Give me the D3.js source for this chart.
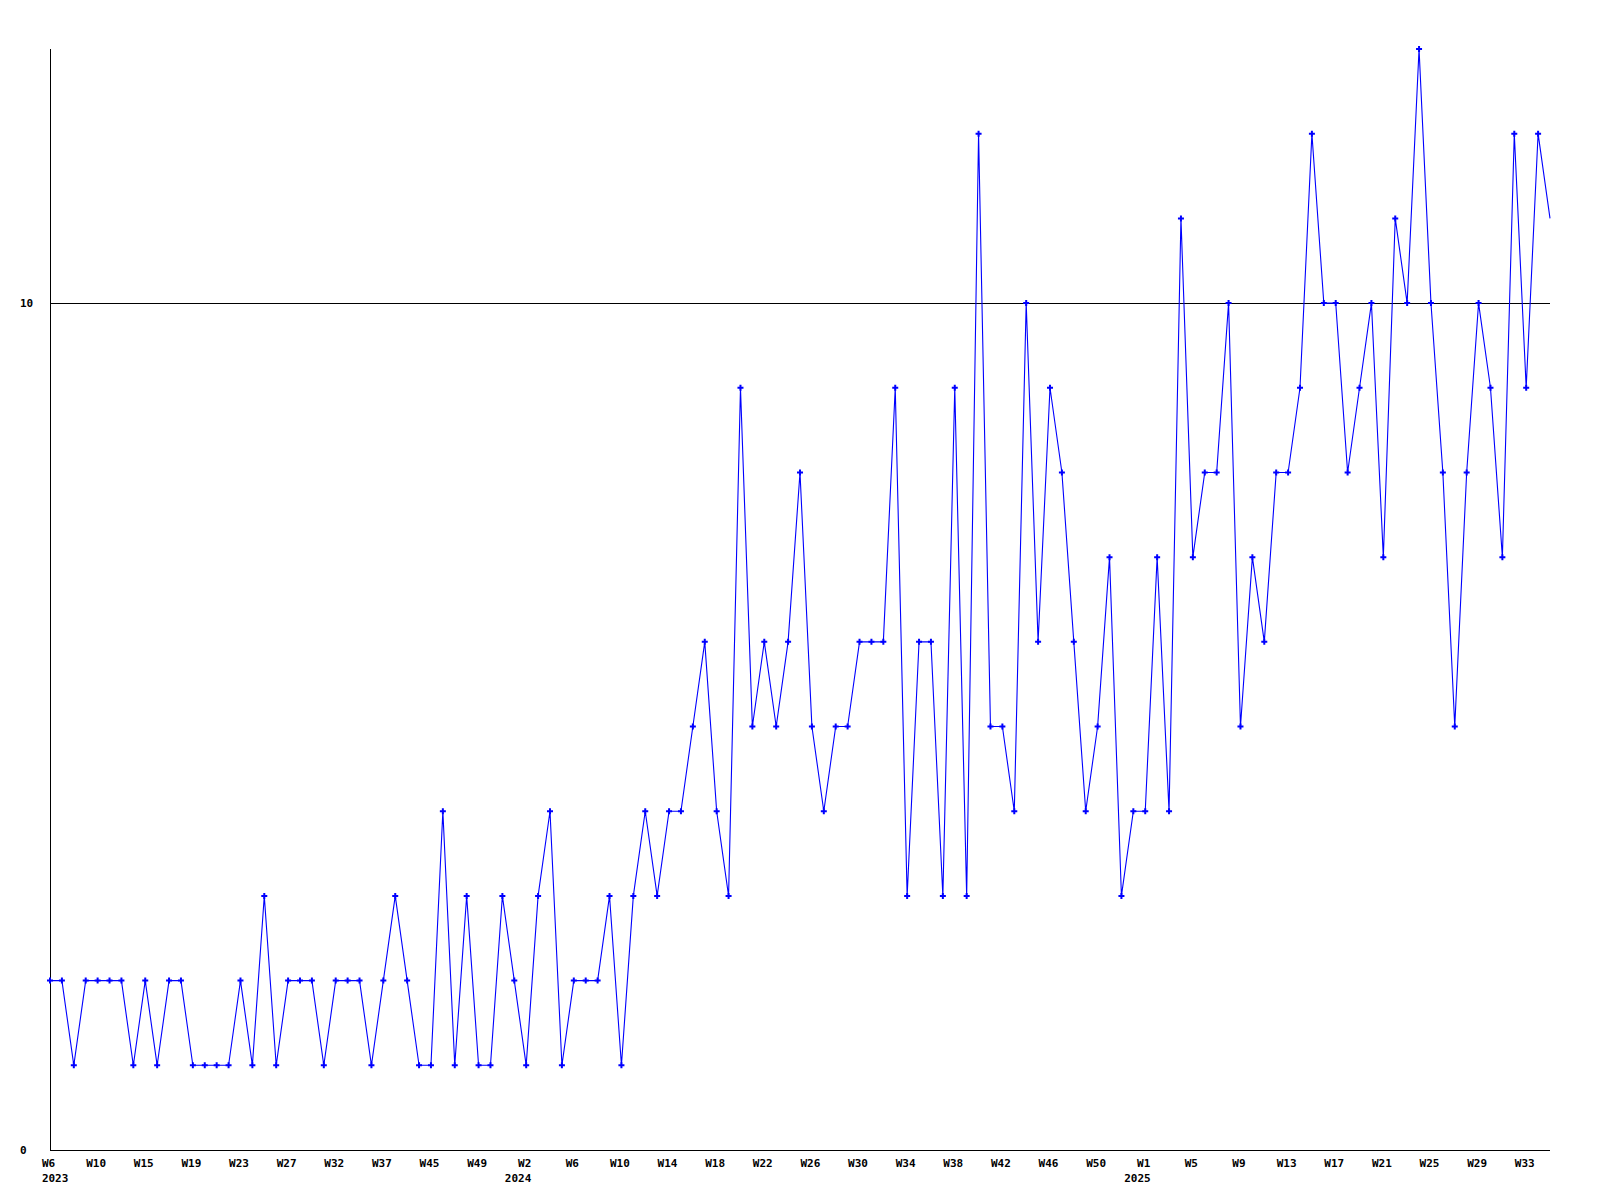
<!DOCTYPE html>
<html>
<head>
<meta charset="utf-8">
<script src="https://cdn.jsdelivr.net/npm/d3@7"></script>
<style>
  html, body { margin: 0; padding: 0; background: #ffffff; }
  svg { display: block; }
  text { font-family: "DejaVu Sans Mono", "Liberation Mono", monospace; font-weight: bold; font-size: 11px; fill: #000; }
</style>
</head>
<body>
<svg id="chart" width="1600" height="1200"></svg>
<script>
// ---- data ----
const values = [
  2, 2, 1, 2, 2, 2, 2, 1, 2, 1,
  2, 2, 1, 1, 1, 1, 2, 1, 3, 1,
  2, 2, 2, 1, 2, 2, 2, 1, 2, 3,
  2, 1, 1, 4, 1, 3, 1, 1, 3, 2,
  1, 3, 4, 1, 2, 2, 2, 3, 1, 3,
  4, 3, 4, 4, 5, 6, 4, 3, 9, 5,
  6, 5, 6, 8, 5, 4, 5, 5, 6, 6,
  6, 9, 3, 6, 6, 3, 9, 3, 12, 5,
  5, 4, 10, 6, 9, 8, 6, 4, 5, 7,
  3, 4, 4, 7, 4, 11, 7, 8, 8, 10,
  5, 7, 6, 8, 8, 9, 12, 10, 10, 8,
  9, 10, 7, 11, 10, 13, 10, 8, 5, 8,
  10, 9, 7, 12, 9, 12, 11
];
// one label for every 4th point
const weekLabels = ["W6","W10","W15","W19","W23","W27","W32","W37","W45","W49","W2",
  "W6","W10","W14","W18","W22","W26","W30","W34","W38","W42","W46","W50",
  "W1","W5","W9","W13","W17","W21","W25","W29","W33"];
const labelEvery = 4;
const yearLabels = ["2023", "2024", "2025"];
const yearLabelOf = [0, 10, 23];   // index into weekLabels carrying the year line
const yTicks = [0, 10];
const yMax = 13;

// ---- layout ----
const margin = { left: 50, right: 50, top: 49, bottom: 50 };
const W = 1600, H = 1200;
const plotW = W - margin.left - margin.right;
const plotH = H - margin.top - margin.bottom;

const svg = d3.select("#chart");
svg.append("rect").attr("width", W).attr("height", H).attr("fill", "#fff");

const g = svg.append("g").attr("transform", `translate(${margin.left},${margin.top})`);

const x = d3.scaleLinear().domain([0, values.length - 1]).range([0, plotW]);
const y = d3.scaleLinear().domain([0, yMax]).range([plotH, 0]);

// gridline at 10
g.selectAll("line.grid").data(yTicks.filter(d => d !== 0)).join("line")
  .attr("class", "grid")
  .attr("x1", 0).attr("x2", plotW)
  .attr("y1", d => Math.round(y(d)) + 0.5).attr("y2", d => Math.round(y(d)) + 0.5)
  .attr("stroke", "#000").attr("stroke-width", 1).attr("shape-rendering", "crispEdges");

// axes lines
g.append("line").attr("x1", 0.5).attr("x2", 0.5).attr("y1", 0).attr("y2", plotH)
  .attr("stroke", "#000").attr("shape-rendering", "crispEdges");
g.append("line").attr("x1", 0).attr("x2", plotW).attr("y1", plotH + 0.5).attr("y2", plotH + 0.5)
  .attr("stroke", "#000").attr("shape-rendering", "crispEdges");

// y tick labels (left aligned)
g.selectAll("text.ylab").data(yTicks).join("text")
  .attr("class", "ylab")
  .attr("x", -30)
  .attr("y", d => y(d))
  .attr("dy", "0.35em")
  .attr("text-anchor", "start")
  .text(d => d);

// x axis labels via d3 axis
const tickIdx = weekLabels.map((_, i) => i * labelEvery);
const xAxis = d3.axisBottom(x)
  .tickValues(tickIdx)
  .tickSize(0)
  .tickFormat((d, i) => weekLabels[i]);
const xa = g.append("g").attr("transform", `translate(0,${plotH})`).call(xAxis);
xa.select(".domain").remove();
xa.selectAll(".tick text")
  .attr("y", 17).attr("dy", 0).attr("dx", -2)
  .attr("font-family", null).attr("font-size", null)
  .style("font-family", '"DejaVu Sans Mono", monospace')
  .style("font-weight", "bold").style("font-size", "11px").attr("fill", "#000");
// year line: right-aligned with the week label, but kept from running past the left edge
xa.selectAll(".tick").each(function (d, i) {
  const k = yearLabelOf.indexOf(i);
  if (k < 0) return;
  const tick = d3.select(this);
  const wk = tick.select("text").node().getBBox();
  const yr = tick.append("text")
    .attr("y", 32).attr("text-anchor", "end")
    .style("font-family", '"DejaVu Sans Mono", monospace')
    .style("font-weight", "bold").style("font-size", "11px").attr("fill", "#000")
    .attr("x", wk.x + wk.width)
    .text(yearLabels[k]);
  const yb = yr.node().getBBox();
  if (x(d) + yb.x < -10) {
    yr.attr("text-anchor", "start").attr("x", wk.x);
  }
});

// clip for markers (end point sits on the plot edge and is not marked)
svg.append("defs").append("clipPath").attr("id", "mclip")
  .append("rect").attr("x", -5).attr("y", -5).attr("width", plotW + 2).attr("height", plotH + 10);

// series line
const line = d3.line().x((d, i) => x(i)).y(d => y(d));
g.append("path").datum(values)
  .attr("d", line)
  .attr("fill", "none")
  .attr("stroke", "#0000ff")
  .attr("stroke-width", 1.1);

// markers
const sym = d3.symbol().type(d3.symbolCross).size(20);
g.append("g").attr("clip-path", "url(#mclip)")
  .selectAll("path.m").data(values.slice(0, values.length - 1)).join("path")
  .attr("class", "m")
  .attr("transform", (d, i) => `translate(${x(i)},${y(d)})`)
  .attr("d", sym)
  .attr("fill", "#0000ff");
</script>
</body>
</html>
